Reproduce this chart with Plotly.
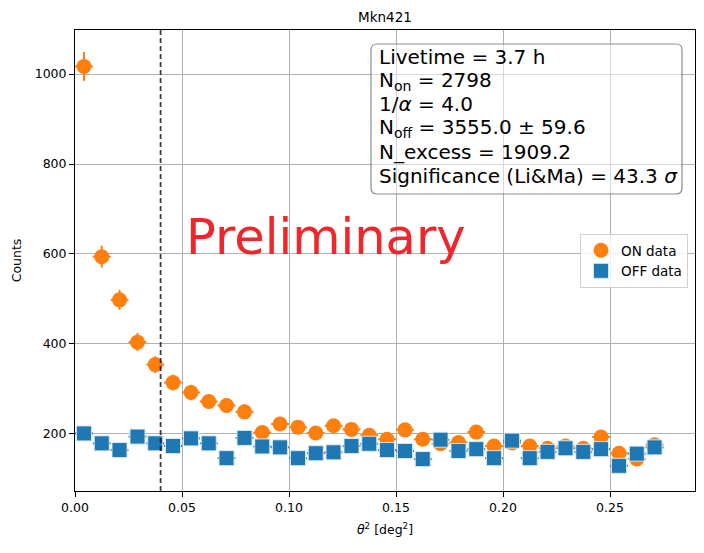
import plotly.graph_objects as go

# theta^2 bin centres [deg^2]
theta2 = [0.0042, 0.0125, 0.0208, 0.0292, 0.0375, 0.0458, 0.0542, 0.0625, 0.0708, 0.0792,
          0.0875, 0.0958, 0.1042, 0.1125, 0.1208, 0.1292, 0.1375, 0.1458, 0.1542, 0.1625,
          0.1708, 0.1792, 0.1875, 0.1958, 0.2042, 0.2125, 0.2208, 0.2292, 0.2375, 0.2458,
          0.2542, 0.2625, 0.2708]
bin_half = 0.00417

on_counts = [1017, 594, 498, 404, 354, 314, 292, 272, 263, 249,
             203, 222, 215, 202, 218, 210, 197, 188, 209, 188,
             178, 181, 204, 173, 180, 173, 168, 173, 168, 193,
             157, 144, 176]
on_err = [31.9, 24.4, 22.3, 20.1, 18.8, 17.7, 17.1, 16.5, 16.2, 15.8,
          14.2, 14.9, 14.7, 14.2, 14.8, 14.5, 14.0, 13.7, 14.5, 13.7,
          13.3, 13.5, 14.3, 13.2, 13.4, 13.2, 13.0, 13.2, 13.0, 13.9,
          12.5, 12.0, 13.3]

off_counts = [201, 179, 164, 194, 179, 173, 190, 179, 146, 191,
              172, 170, 146, 157, 159, 173, 178, 164, 162, 144,
              187, 162, 166, 146, 185, 146, 160, 168, 160, 166,
              129, 156, 170]
off_err = [7.1, 6.7, 6.4, 7.0, 6.7, 6.6, 6.9, 6.7, 6.0, 6.9,
           6.6, 6.5, 6.0, 6.3, 6.3, 6.6, 6.7, 6.4, 6.4, 6.0,
           6.8, 6.4, 6.4, 6.0, 6.8, 6.0, 6.3, 6.5, 6.3, 6.4,
           5.7, 6.2, 6.5]

theta2_cut = 0.04

stats_lines = [
    "Livetime = 3.7 h",
    "N<sub>on</sub> = 2798",
    "1/<i>α</i> = 4.0",
    "N<sub>off</sub> = 3555.0 ± 59.6",
    "N_excess = 1909.2",
    "Significance (Li&amp;Ma) = 43.3 <i>σ</i>",
]

ORANGE = "#ff7f0e"
BLUE = "#1f77b4"
FONT = "DejaVu Sans"

# the page body has an 8px margin, so the figure is drawn 8px smaller / shifted
OFF = 8
W, H = 704 - OFF, 553 - OFF
# plot area in page pixels (used to place the text box etc.)
L, R, T, B = 75, 695, 30, 491
def px(xp):
    return (xp - L) / (R - L)
def py(yp):
    return (B - yp) / (B - T)

fig = go.Figure()

fig.add_trace(go.Scatter(
    x=theta2, y=on_counts, mode="markers", name="ON data",
    marker=dict(symbol="circle", size=15, color=ORANGE),
    error_y=dict(type="data", array=on_err, color=ORANGE, thickness=2, width=0),
    error_x=dict(type="constant", value=bin_half, color=ORANGE, thickness=2, width=0),
))
fig.add_trace(go.Scatter(
    x=theta2, y=off_counts, mode="markers", name="OFF data",
    marker=dict(symbol="square", size=15, color=BLUE,
                line=dict(color="rgba(220,235,245,0.9)", width=1)),
    error_y=dict(type="data", array=off_err, color=BLUE, thickness=2, width=0),
    error_x=dict(type="constant", value=bin_half, color=BLUE, thickness=2, width=0),
))

fig.add_vline(x=theta2_cut, line=dict(color="rgba(0,0,0,0.75)", width=1.8, dash="5px,3px"))

# rounded, half transparent stats box
x0, x1, y0, y1 = px(371), px(682), py(194), py(44)
rx, ry = 6 / (R - L), 6 / (B - T)
path = (f"M {x0+rx},{y0} L {x1-rx},{y0} Q {x1},{y0} {x1},{y0+ry} "
        f"L {x1},{y1-ry} Q {x1},{y1} {x1-rx},{y1} "
        f"L {x0+rx},{y1} Q {x0},{y1} {x0},{y1-ry} "
        f"L {x0},{y0+ry} Q {x0},{y0} {x0+rx},{y0} Z")
fig.add_shape(type="path", path=path, xref="paper", yref="paper",
              fillcolor="rgba(255,255,255,0.5)", line=dict(color="rgba(128,128,128,0.9)", width=1.2),
              layer="above")

line_centres = [57, 81, 104, 128, 152, 176]
for txt, yc in zip(stats_lines, line_centres):
    fig.add_annotation(
        xref="paper", yref="paper", x=px(377), y=py(yc), xanchor="left", yanchor="middle",
        text=txt, align="left", showarrow=False,
        font=dict(family=FONT, size=20, color="black"),
    )

fig.add_annotation(
    x=0.1175, y=637, xref="x", yref="y", text="Preliminary", showarrow=False,
    font=dict(family=FONT, size=49.5, color="#f0262a"),
)

axis_common = dict(
    showline=True, linecolor="black", linewidth=1, mirror=True,
    ticks="outside", ticklen=5, tickcolor="black", tickwidth=1,
    showgrid=True, gridcolor="#b0b0b0", gridwidth=1, zeroline=False,
    tickfont=dict(family=FONT, size=12.5, color="black"), automargin=False,
)

fig.update_xaxes(range=[0, 0.2897], tickvals=[0, 0.05, 0.10, 0.15, 0.20, 0.25],
                 ticktext=["0.00", "0.05", "0.10", "0.15", "0.20", "0.25"],
                 title=dict(text="<i>θ</i><sup>2</sup> [deg<sup>2</sup>]",
                            font=dict(family=FONT, size=12.5, color="black"), standoff=11),
                 **axis_common)
fig.update_yaxes(range=[73, 1098], tickvals=[200, 400, 600, 800, 1000],
                 title=dict(text="Counts", font=dict(family=FONT, size=12.5, color="black"),
                            standoff=10),
                 **axis_common)

fig.update_layout(
    width=W, height=H,
    margin=dict(l=L - OFF, r=704 - R, t=T - OFF, b=553 - B, autoexpand=False),
    paper_bgcolor="white", plot_bgcolor="white",
    font=dict(family=FONT, color="black"),
    title=dict(text="Mkn421", x=px(385), xref="paper", xanchor="center",
               y=1 - (17 - OFF) / H, yanchor="middle",
               yref="container", font=dict(family=FONT, size=13.5, color="black")),
    legend=dict(x=px(688), y=py(261), xanchor="right", yanchor="middle",
                bgcolor="rgba(255,255,255,0.8)", bordercolor="#d0d0d0", borderwidth=1,
                font=dict(family=FONT, size=13.5, color="black"), tracegroupgap=0),
    showlegend=True,
)

fig.write_html("out.html")
